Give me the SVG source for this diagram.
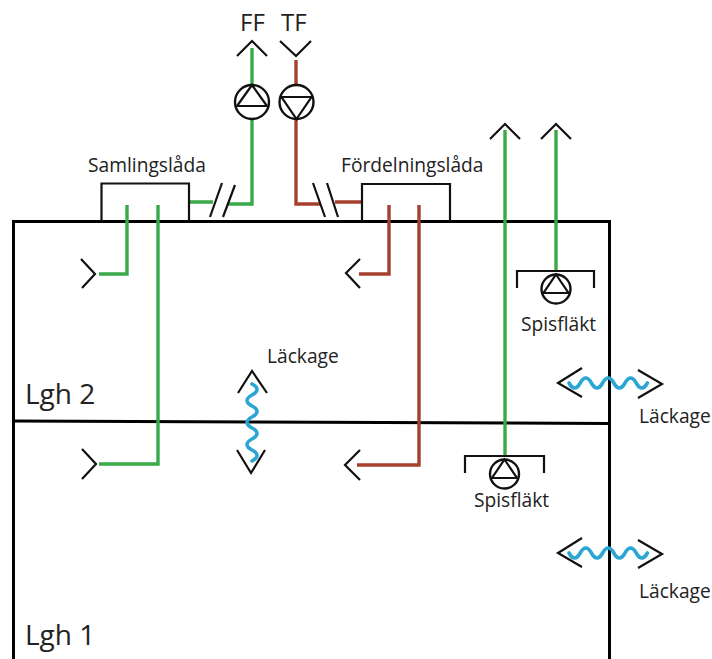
<svg xmlns="http://www.w3.org/2000/svg" width="712" height="659" viewBox="0 0 712 659">
<style>
text{font-family:"Open Sans","Noto Sans",sans-serif;fill:#222;font-size:19.200px}
.big{font-size:28px}.mid{font-size:24px}
.k{fill:none;stroke:#111;stroke-width:2.2}
.wall{fill:none;stroke:#000;stroke-width:3}
.g{fill:none;stroke:#39a94a;stroke-width:3.4}
.b{fill:none;stroke:#a5402c;stroke-width:3.4}
.w{fill:none;stroke:#2ba6d3;stroke-width:3.600;stroke-linecap:round}
.c{fill:#fff;stroke:#111;stroke-width:2.4}
</style>
<defs>
<g id="up"><circle class="c" r="17"/><path class="k" d="M0-17 L15 4H-15Z"/></g>
<g id="down"><circle class="c" r="17"/><path class="k" d="M0 17 L15-5H-15Z"/></g>
<g id="fan"><circle class="c" r="14.5"/><path class="k" d="M0-14.5 L12.500 4H-12.500Z"/></g>
<path id="hw" class="w" d="M569 383q5.600 10 11.200 0t11.200 0t11.200 0t11.200 0t11.200 0t11.200 0t11.200 0"/>
</defs>
<g id="building">
<path class="wall" d="M13.500 659V221.500H609.500V659"/>
<path class="wall" d="M13 421L609 423.500"/>
<text class="big" x="25" y="404">Lgh 2</text>
<text class="big" x="25" y="645">Lgh 1</text>
</g>
<g id="connectors">
<path class="g" d="M252 48V85M252 118V204H228M213 202H189"/>
<path class="b" d="M296 60V85M296 119V204H320M335 202H362"/>
<path class="g" d="M127 205V274H99M158 205V464H99"/>
<path class="b" d="M389 205V274H359M419 205V465H357"/>
<path class="g" d="M505 130V456M556 130V271"/>
<path class="k" d="M210 217L222 183M223 217L235 185M313 183L325 217M327 183L338 217"/>
<path class="k" d="M237 56L252 41L267 56M280 41L296 56L311 41M490 139L505 124L520 139M541 139L556 124L571 139"/>
<path class="k" d="M81 259L95 274L82 288M82 449L96 464L82 479M360 259L346 273L360 288M360 450L345 465L360 480"/>
</g>
<g id="ff"><text class="mid" x="240" y="31">FF</text><use href="#up" x="252" y="102"/></g>
<g id="tf"><text class="mid" x="281" y="31">TF</text><use href="#down" x="296.500" y="102"/></g>
<g id="samlingslada"><path class="k" d="M101.500 221V183.500H189V221"/><text x="88" y="172">Samlingslåda</text></g>
<g id="fordelningslada"><path class="k" d="M362 221V184H450V221"/><text x="341" y="172">Fördelningslåda</text></g>
<g id="spis2"><path class="k" d="M517 288V271H594V288"/><use href="#fan" x="556" y="289"/><text x="521" y="331">Spisfläkt</text></g>
<g id="spis1"><path class="k" d="M465 473V456H544V473"/><use href="#fan" x="504.500" y="474"/><text x="474" y="507">Spisfläkt</text></g>
<g id="leak-vertical">
<path class="k" d="M238 393L252 371L267 393M237 450L251 473L265 450"/>
<path class="w" d="M252 384q10 5.500 0 11t0 11t0 11t0 11t0 11t0 11t0 11"/>
<text x="267" y="363">Läckage</text>
</g>
<g id="leak-2">
<path class="k" d="M582 368L558 383L582 397M638 370L662 384L638 398"/>
<use href="#hw"/>
<text x="639" y="423">Läckage</text>
</g>
<g id="leak-1">
<path class="k" d="M582 538L558 553L582 567M638 540L662 554L638 568"/>
<use href="#hw" y="170"/>
<text x="639" y="598">Läckage</text>
</g>
</svg>
